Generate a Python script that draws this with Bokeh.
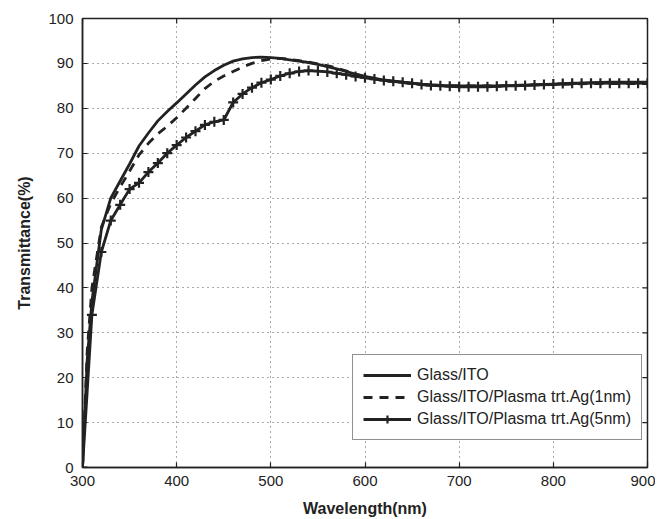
import math
from bokeh.plotting import figure
from bokeh.models import (Range1d, FixedTicker, Legend, LegendItem)
from bokeh.embed import file_html
from bokeh.resources import INLINE

# ---- data ----
wl_ito = [300, 305, 310, 320, 330, 340, 350, 360, 370, 380, 390, 400, 410, 420, 430,
          440, 450, 460, 470, 480, 490, 500, 510, 520, 530, 540, 550, 560, 570, 580,
          590, 600, 620, 640, 660, 680, 700, 720, 740, 760, 780, 800, 820, 840, 860,
          880, 900]
t_ito = [0, 24, 37, 53, 60, 63.8, 67.6, 71.6, 74.5, 77.2, 79.3, 81.2, 83.2, 85.2, 87.0,
         88.4, 89.6, 90.5, 91.0, 91.3, 91.4, 91.3, 91.1, 90.8, 90.5, 90.2, 89.8, 89.3,
         88.8, 88.2, 87.6, 87.1, 86.3, 85.8, 85.4, 85.1, 85.0, 85.0, 85.0, 85.1, 85.2,
         85.3, 85.5, 85.7, 85.8, 85.8, 85.8]

wl_ag1 = [300, 305, 310, 320, 330, 340, 350, 360, 370, 380, 390, 400, 410, 420, 430,
          440, 450, 460, 470, 480, 490, 500, 510, 520, 530, 540, 550, 560, 570, 580,
          590, 600, 620, 640, 660, 680, 700, 720, 740, 760, 780, 800, 820, 840, 860,
          880, 900]
t_ag1 = [0, 26, 40, 53.5, 58.8, 62.5, 66.0, 69.6, 72.2, 74.3, 76.0, 77.9, 80.0, 82.2,
         84.4, 86.0, 87.2, 88.2, 89.2, 90.0, 90.6, 91.0, 91.1, 90.9, 90.6, 90.3, 89.9,
         89.5, 89.0, 88.3, 87.6, 87.0, 86.2, 85.7, 85.3, 85.1, 85.0, 85.0, 85.0, 85.1,
         85.2, 85.3, 85.4, 85.5, 85.5, 85.5, 85.5]

wl_ag5 = [300, 310, 320, 330, 340, 350, 360, 370, 380, 390, 400, 410, 420, 430, 440,
          450, 460, 470, 480, 490, 500, 510, 520, 530, 540, 550, 560, 570, 580, 590,
          600, 610, 620, 630, 640, 650, 660, 670, 680, 690, 700, 710, 720, 730, 740,
          750, 760, 770, 780, 790, 800, 810, 820, 830, 840, 850, 860, 870, 880, 890, 900]
t_ag5 = [0, 34, 48, 55, 58.5, 62.0, 63.4, 65.8, 67.8, 70.0, 71.8, 73.5, 74.9, 76.3, 77.0,
         77.4, 81.3, 83.2, 84.6, 85.7, 86.4, 87.2, 87.8, 88.2, 88.4, 88.3, 88.1, 87.8,
         87.5, 87.1, 86.8, 86.5, 86.2, 86.0, 85.8, 85.6, 85.3, 85.1, 85.0, 84.9, 84.8,
         84.8, 84.8, 84.8, 84.9, 85.0, 85.0, 85.1, 85.2, 85.3, 85.4, 85.5, 85.6, 85.6,
         85.6, 85.6, 85.6, 85.6, 85.6, 85.6, 85.6]

x_ticks = [300, 400, 500, 600, 700, 800, 900]
y_ticks = [0, 10, 20, 30, 40, 50, 60, 70, 80, 90, 100]

labels = ["Glass/ITO", "Glass/ITO/Plasma trt.Ag(1nm)", "Glass/ITO/Plasma trt.Ag(5nm)"]

INK = "#222222"
FONT = "Liberation Sans"

X0, X1, Y0, Y1 = 300, 900, 0, 100

p = figure(width=655, height=519, output_backend="svg", toolbar_location=None,
           x_range=Range1d(X0, X1), y_range=Range1d(Y0, Y1),
           min_border_left=82, min_border_right=8, min_border_top=18, min_border_bottom=51)
p.background_fill_color = "white"
p.border_fill_color = "white"
p.outline_line_color = INK
p.outline_line_width = 1.5

for ax, ticks in ((p.xaxis[0], x_ticks), (p.yaxis[0], y_ticks)):
    ax.ticker = FixedTicker(ticks=ticks)
    ax.major_tick_in = 5
    ax.major_tick_out = 0
    ax.minor_tick_line_color = None
    ax.axis_line_color = INK
    ax.axis_line_width = 1.5
    ax.major_tick_line_color = INK
    ax.major_tick_line_width = 1.2
    ax.major_label_text_font = FONT
    ax.major_label_text_font_size = "15px"
    ax.major_label_text_color = INK
    ax.axis_label_text_font = FONT
    ax.axis_label_text_font_size = "16px"
    ax.axis_label_text_font_style = "bold"
    ax.axis_label_text_color = INK

p.xaxis.axis_label = "Wavelength(nm)"
p.yaxis.axis_label = "Transmittance(%)"
p.xaxis.major_label_standoff = 8
p.xaxis.axis_label_standoff = 11
p.yaxis.major_label_standoff = 9
p.yaxis.axis_label_standoff = 12

for g, ticks in ((p.xgrid[0], x_ticks), (p.ygrid[0], y_ticks)):
    g.ticker = FixedTicker(ticks=ticks)
    g.grid_line_color = "#555555"
    g.grid_line_dash = "1 4"
    g.grid_line_width = 1

# mirrored inward ticks on the right and top edges of the box
p.scatter([X1] * len(y_ticks), y_ticks, marker="dash", size=10,
          line_color=INK, line_width=1.2)
p.scatter(x_ticks, [Y1] * len(x_ticks), marker="dash", size=10, angle=math.pi / 2,
          line_color=INK, line_width=1.2)

r1 = p.line(wl_ito, t_ito, line_color=INK, line_width=2.8)
r2 = p.line(wl_ag1, t_ag1, line_color=INK, line_width=2.8, line_dash="9 7")
r3 = p.line(wl_ag5, t_ag5, line_color=INK, line_width=2.8)
r3m = p.scatter(wl_ag5, t_ag5, marker="cross", size=10, line_color=INK, line_width=2.2)

legend = Legend(items=[LegendItem(label=labels[0], renderers=[r1]),
                       LegendItem(label=labels[1], renderers=[r2]),
                       LegendItem(label=labels[2], renderers=[r3, r3m])],
                location=(270, 27), orientation="vertical")
legend.label_text_font = FONT
legend.label_text_font_size = "16px"
legend.label_text_color = INK
legend.glyph_width = 48
legend.glyph_height = 20
legend.label_height = 20
legend.spacing = 2
legend.padding = 10
legend.margin = 0
legend.label_standoff = 6
legend.border_line_color = INK
legend.border_line_width = 1.2
legend.background_fill_alpha = 1.0
p.add_layout(legend, "center")

open("out.html", "w").write(file_html(p, INLINE))
